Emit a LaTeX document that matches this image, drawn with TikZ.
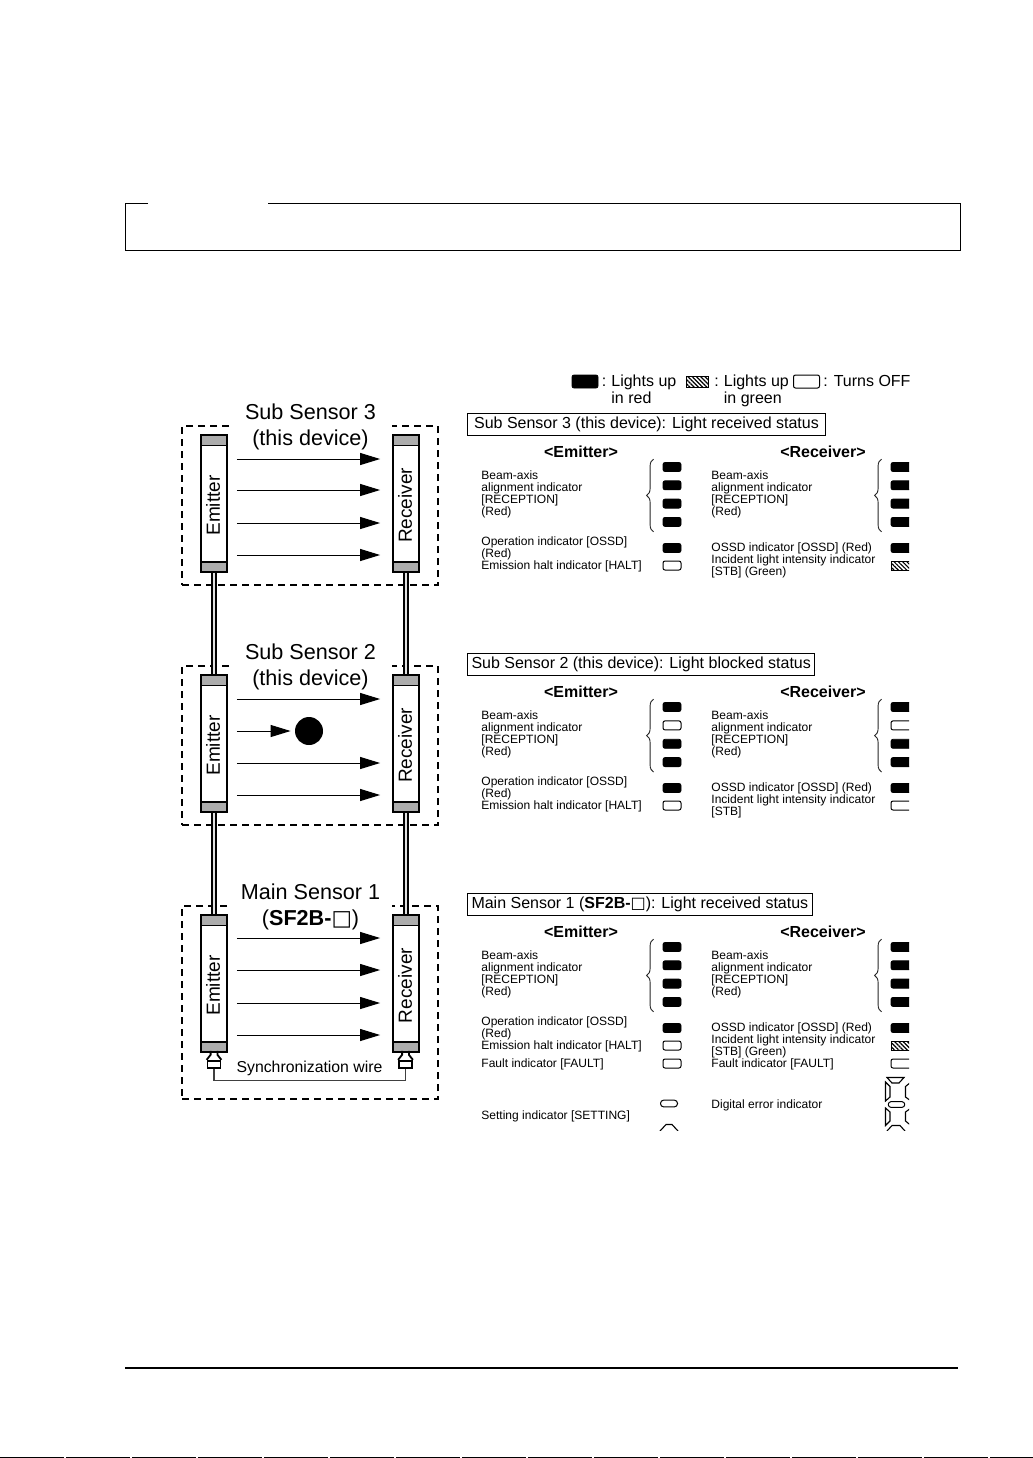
\documentclass[tikz,border=0pt]{standalone}
\usepackage{fontspec}
\setmainfont{Liberation Sans}
\newfontfamily\symbolfont{DejaVu Sans}
\usepackage{xcolor}
\usetikzlibrary{arrows.meta, positioning, calc, patterns.meta, decorations.pathreplacing}
\definecolor{capcolor}{RGB}{172,172,172}
\definecolor{wirecolor}{RGB}{225,225,225}

\begin{document}
\begin{tikzpicture}[
    x=0.5pt, y=-0.5pt,
    sensorframe/.style={rectangle, draw, dash pattern=on 3.5pt off 2.5pt, line width=0.65pt, minimum width=128pt},
    sensorbody/.style={rectangle, draw, fill=white, line width=0.9pt, minimum width=13pt, minimum height=68.5pt, inner sep=0pt},
    sensorcap/.style={rectangle, draw, fill=capcolor, line width=0.9pt, minimum width=13pt, minimum height=5.2pt, inner sep=0pt},
    sensorname/.style={rotate=90, inner sep=0pt, font=\fontsize{9.5}{11}\selectfont},
    sensortitle/.style={fill=white, align=center, inner sep=0pt, minimum width=81pt, minimum height=24pt, font=\fontsize{10.8}{13}\selectfont},
    beam/.style={-{Triangle[length=10pt,width=6pt]}, line width=0.5pt, shorten <=4.5pt, shorten >=6pt},
    wire/.style={double=wirecolor, double distance=1pt, line width=0.8pt},
    statusbox/.style={rectangle, draw, anchor=west, line width=0.5pt, minimum height=11pt, inner xsep=2pt, inner ysep=0pt, font=\fontsize{8}{9}\selectfont},
    heading/.style={inner sep=0pt, font=\bfseries\fontsize{8}{9}\selectfont},
    legendtext/.style={anchor=north west, align=left, inner sep=0pt, font=\fontsize{8}{8.5}\selectfont},
    itemtext/.style={anchor=west, align=left, inner sep=0pt, font=\fontsize{6.02}{5.9}\selectfont},
    ledon/.style={rectangle, rounded corners=1pt, fill=black, draw, minimum width=9pt, minimum height=4.5pt, inner sep=0pt},
    ledoff/.style={rectangle, rounded corners=1pt, fill=white, draw, line width=0.5pt, minimum width=9pt, minimum height=4.5pt, inner sep=0pt},
    ledgreen/.style={rectangle, draw, line width=0.3pt, minimum width=9pt, minimum height=4.5pt, inner sep=0pt, pattern={Lines[angle=-45,distance=1.5pt,line width=0.6pt]}},
    rxlamp/.style={minimum width=11pt},
    bracket/.style={decorate, decoration={brace, amplitude=3.5pt}, line width=0.45pt, draw=black!85},
    plugbox/.style={rectangle, draw, fill=white, line width=0.9pt, minimum width=6.5pt, minimum height=3.8pt, inner sep=0pt},
    plugneck/.style={line width=0.9pt},
    syncwire/.style={line width=0.6pt, draw=black!75},
    segment/.style={line width=0.55pt},
    pageline/.style={line width=0.5pt},
    node distance=4.25pt
]
    \useasboundingbox (0,0) rectangle (1033,1458);

    % Page rules
    \draw[pageline] (148,203) -| (125,250) -| (960,203) -- (268,203);
    \draw[line width=1pt] (125,1368) -- (958,1368);
    \draw[line width=0.75pt, dash pattern=on 32pt off 1pt] (0,1457.4) -- (1033,1457.4);

    % Dashed frames
    \node[sensorframe, minimum height=79.5pt] (frame3) at (310,505.5) {};
    \node[sensorframe, minimum height=79.5pt] (frame2) at (310,745.5) {};
    \node[sensorframe, minimum height=96.5pt] (frame1) at (310,1002.5) {};

    % Sensor bodies
    \node[sensorbody] (emit3) at (214,503.5) {};
    \node[sensorbody] (recv3) at (406,503.5) {};
    \node[sensorbody] (emit2) at (214,743.5) {};
    \node[sensorbody] (recv2) at (406,743.5) {};
    \node[sensorbody] (emit1) at (214,983.5) {};
    \node[sensorbody] (recv1) at (406,983.5) {};

    % End caps
    \node[sensorcap, below=0pt of emit3.north] (emit3top) {};
    \node[sensorcap, above=0pt of emit3.south] (emit3bot) {};
    \node[sensorcap, below=0pt of recv3.north] (recv3top) {};
    \node[sensorcap, above=0pt of recv3.south] (recv3bot) {};
    \node[sensorcap, below=0pt of emit2.north] (emit2top) {};
    \node[sensorcap, above=0pt of emit2.south] (emit2bot) {};
    \node[sensorcap, below=0pt of recv2.north] (recv2top) {};
    \node[sensorcap, above=0pt of recv2.south] (recv2bot) {};
    \node[sensorcap, below=0pt of emit1.north] (emit1top) {};
    \node[sensorcap, above=0pt of emit1.south] (emit1bot) {};
    \node[sensorcap, below=0pt of recv1.north] (recv1top) {};
    \node[sensorcap, above=0pt of recv1.south] (recv1bot) {};

    % Names on the bodies
    \node[sensorname] (emit3name) at ($(emit3)+(-1,2)$) {Emitter};
    \node[sensorname] (recv3name) at ($(recv3)+(-1,2)$) {Receiver};
    \node[sensorname] (emit2name) at ($(emit2)+(-1,2)$) {Emitter};
    \node[sensorname] (recv2name) at ($(recv2)+(-1,2)$) {Receiver};
    \node[sensorname] (emit1name) at ($(emit1)+(-1,2)$) {Emitter};
    \node[sensorname] (recv1name) at ($(recv1)+(-1,2)$) {Receiver};

    % Cables between the sensors
    \draw[wire] (emit3.south) -- (emit2.north);
    \draw[wire] (recv3.south) -- (recv2.north);
    \draw[wire] (emit2.south) -- (emit1.north);
    \draw[wire] (recv2.south) -- (recv1.north);

    % Titles over the frames
    \node[sensortitle] (title3) at (310.5,427) {Sub Sensor 3\\(this device)};
    \node[sensortitle] (title2) at (310.5,667) {Sub Sensor 2\\(this device)};
    \node[sensortitle] (title1) at (310.5,907) {Main Sensor 1\\(\textbf{SF2B-}{\symbolfont □})};

    % Beams, Sub Sensor 3
    \draw[beam] ($(emit3.east)+(0,-44.5)$) -- ($(recv3.west)+(0,-44.5)$);
    \draw[beam] ($(emit3.east)+(0,-13.5)$) -- ($(recv3.west)+(0,-13.5)$);
    \draw[beam] ($(emit3.east)+(0,19.5)$) -- ($(recv3.west)+(0,19.5)$);
    \draw[beam] ($(emit3.east)+(0,51.5)$) -- ($(recv3.west)+(0,51.5)$);

    % Beams, Sub Sensor 2 (one of them stopped)
    \node[circle, fill=black, minimum size=14pt, inner sep=0pt] (blocker) at (309,731) {};
    \draw[beam] ($(emit2.east)+(0,-44.5)$) -- ($(recv2.west)+(0,-44.5)$);
    \draw[beam, shorten >=2pt] ($(emit2.east)+(0,-12.5)$) -- (blocker.west);
    \draw[beam] ($(emit2.east)+(0,19.5)$) -- ($(recv2.west)+(0,19.5)$);
    \draw[beam] ($(emit2.east)+(0,51.5)$) -- ($(recv2.west)+(0,51.5)$);

    % Beams, Main Sensor 1
    \draw[beam] ($(emit1.east)+(0,-45.5)$) -- ($(recv1.west)+(0,-45.5)$);
    \draw[beam] ($(emit1.east)+(0,-13.5)$) -- ($(recv1.west)+(0,-13.5)$);
    \draw[beam] ($(emit1.east)+(0,19.5)$) -- ($(recv1.west)+(0,19.5)$);
    \draw[beam] ($(emit1.east)+(0,51.5)$) -- ($(recv1.west)+(0,51.5)$);

    % Synchronization wire
    \node[plugbox] (plugemit) at (214,1064.5) {};
    \node[plugbox] (plugrecv) at (405.5,1064.5) {};
    \draw[plugneck] (plugemit.north west) -- ++(4,-5) -- ++(0,-4);
    \draw[plugneck] (plugemit.north east) -- ++(-4,-5) -- ++(0,-4);
    \draw[plugneck] (plugrecv.north west) -- ++(4,-5) -- ++(0,-4);
    \draw[plugneck] (plugrecv.north east) -- ++(-4,-5) -- ++(0,-4);
    \draw[syncwire] (plugemit.south) -- ++(0,11) -| (plugrecv.south);
    \node[inner sep=0pt, font=\fontsize{7.9}{9}\selectfont] (synclabel) at (309.5,1068.5) {Synchronization wire};

    % Legend
    \node[ledon, minimum width=13pt, minimum height=6.5pt] (legendon) at (585,381.5) {};
    \node[legendtext] (legendon1) at (601.5,374) {\vphantom{Lh}:};
    \node[legendtext] (legendon2) at (611,374) {Lights up\\in red};
    \node[ledgreen, minimum width=11pt, minimum height=5.5pt] (legendgreen) at (697,381.5) {};
    \node[legendtext] (legendgreen1) at (714,374) {\vphantom{Lh}:};
    \node[legendtext] (legendgreen2) at (723.5,374) {Lights up\\in green};
    \node[ledoff, minimum width=13pt, minimum height=6.5pt] (legendoff) at (806.5,381.5) {};
    \node[legendtext] (legendoff1) at (823,374) {\vphantom{Lh}: Turns OFF};

    % Status of Sub Sensor 3
    \node[statusbox, minimum width=179pt] (status3) at (467,424) {Sub Sensor 3 (this device): Light received status};
    \node[heading] (emithead3) at (581,451.5) {<Emitter>};
    \node[heading] (recvhead3) at (823,451.5) {<Receiver>};
    \node[itemtext] (emitbeam3) at (481,494.5) {Beam-axis\\alignment indicator\\{[RECEPTION]}\\(Red)};
    \node[itemtext] (emitoper3) at (481,548) {Operation indicator [OSSD]\\(Red)};
    \node[itemtext] (emithalt3) at (481,566.5) {Emission halt indicator [HALT]};
    \node[itemtext] (recvbeam3) at (711,494.5) {Beam-axis\\alignment indicator\\{[RECEPTION]}\\(Red)};
    \node[itemtext] (recvossd3) at (711,548.5) {OSSD indicator [OSSD] (Red)};
    \node[itemtext] (recvstb3) at (711,566.5) {Incident light intensity indicator\\{[STB]} (Green)};

    % Status of Sub Sensor 2
    \node[statusbox, minimum width=173pt] (status2) at (467,664) {Sub Sensor 2 (this device): Light blocked status};
    \node[heading] (emithead2) at (581,691.5) {<Emitter>};
    \node[heading] (recvhead2) at (823,691.5) {<Receiver>};
    \node[itemtext] (emitbeam2) at (481,734.5) {Beam-axis\\alignment indicator\\{[RECEPTION]}\\(Red)};
    \node[itemtext] (emitoper2) at (481,788) {Operation indicator [OSSD]\\(Red)};
    \node[itemtext] (emithalt2) at (481,806.5) {Emission halt indicator [HALT]};
    \node[itemtext] (recvbeam2) at (711,734.5) {Beam-axis\\alignment indicator\\{[RECEPTION]}\\(Red)};
    \node[itemtext] (recvossd2) at (711,788.5) {OSSD indicator [OSSD] (Red)};
    \node[itemtext] (recvstb2) at (711,806.5) {Incident light intensity indicator\\{[STB]}};

    % Status of Main Sensor 1
    \node[statusbox, minimum width=172pt] (status1) at (467,904) {Main Sensor 1 (\textbf{SF2B-}{\symbolfont □}): Light received status};
    \node[heading] (emithead1) at (581,931.5) {<Emitter>};
    \node[heading] (recvhead1) at (823,931.5) {<Receiver>};
    \node[itemtext] (emitbeam1) at (481,974.5) {Beam-axis\\alignment indicator\\{[RECEPTION]}\\(Red)};
    \node[itemtext] (emitoper1) at (481,1028) {Operation indicator [OSSD]\\(Red)};
    \node[itemtext] (emithalt1) at (481,1046.5) {Emission halt indicator [HALT]};
    \node[itemtext] (emitfault1) at (481,1064) {Fault indicator [FAULT]};
    \node[itemtext] (emitset1) at (481,1116) {Setting indicator [SETTING]};
    \node[itemtext] (recvbeam1) at (711,974.5) {Beam-axis\\alignment indicator\\{[RECEPTION]}\\(Red)};
    \node[itemtext] (recvossd1) at (711,1028.5) {OSSD indicator [OSSD] (Red)};
    \node[itemtext] (recvstb1) at (711,1046.5) {Incident light intensity indicator\\{[STB]} (Green)};
    \node[itemtext] (recvfault1) at (711,1064) {Fault indicator [FAULT]};
    \node[itemtext] (recvdigit1) at (711,1105) {Digital error indicator};

    \begin{scope}
    \clip (460,360) rectangle (909,1130);

    % Lamps of Sub Sensor 3
    \node[ledon] (emled3a) at (672,467) {};
    \node[ledon, below=of emled3a] (emled3b) {};
    \node[ledon, below=of emled3b] (emled3c) {};
    \node[ledon, below=of emled3c] (emled3d) {};
    \node[ledon] (emoper3) at (672,548) {};
    \node[ledoff] (emhalt3) at (672,565.5) {};
    \node[ledon, rxlamp] (rxled3a) at (902,467) {};
    \node[ledon, rxlamp, below=of rxled3a] (rxled3b) {};
    \node[ledon, rxlamp, below=of rxled3b] (rxled3c) {};
    \node[ledon, rxlamp, below=of rxled3c] (rxled3d) {};
    \node[ledon, rxlamp] (rxossd3) at (902,548) {};
    \node[ledgreen, rxlamp] (rxstb3) at (902,565.5) {};

    % Lamps of Sub Sensor 2
    \node[ledon] (emled2a) at (672,707) {};
    \node[ledoff, below=of emled2a] (emled2b) {};
    \node[ledon, below=of emled2b] (emled2c) {};
    \node[ledon, below=of emled2c] (emled2d) {};
    \node[ledon] (emoper2) at (672,788) {};
    \node[ledoff] (emhalt2) at (672,805.5) {};
    \node[ledon, rxlamp] (rxled2a) at (902,707) {};
    \node[ledoff, rxlamp, below=of rxled2a] (rxled2b) {};
    \node[ledon, rxlamp, below=of rxled2b] (rxled2c) {};
    \node[ledon, rxlamp, below=of rxled2c] (rxled2d) {};
    \node[ledon, rxlamp] (rxossd2) at (902,788) {};
    \node[ledoff, rxlamp] (rxstb2) at (902,805.5) {};

    % Lamps of Main Sensor 1
    \node[ledon] (emled1a) at (672,947) {};
    \node[ledon, below=of emled1a] (emled1b) {};
    \node[ledon, below=of emled1b] (emled1c) {};
    \node[ledon, below=of emled1c] (emled1d) {};
    \node[ledon] (emoper1) at (672,1028) {};
    \node[ledoff] (emhalt1) at (672,1045.5) {};
    \node[ledoff] (emfault1) at (672,1063.5) {};
    \node[ledon, rxlamp] (rxled1a) at (902,947) {};
    \node[ledon, rxlamp, below=of rxled1a] (rxled1b) {};
    \node[ledon, rxlamp, below=of rxled1b] (rxled1c) {};
    \node[ledon, rxlamp, below=of rxled1c] (rxled1d) {};
    \node[ledon, rxlamp] (rxossd1) at (902,1028) {};
    \node[ledgreen, rxlamp] (rxstb1) at (902,1045.5) {};
    \node[ledoff, rxlamp] (rxfault1) at (902,1063.5) {};

    % Setting indicator
    \node[ledoff, minimum width=8.5pt, minimum height=3.4pt, rounded corners=1.6pt] (setlamp) at (669,1103.5) {};
    \draw[segment] (660,1131) -- (666,1124.5) -- (672,1124.5) -- (678,1131);

    % Digital error indicator
    \draw[segment] (887,1077.5) -- (904,1077.5) -- (899,1083) -- (892,1083) -- cycle;
    \draw[segment] (885.5,1082) -- (890,1086.5) -- (890,1097) -- (885.5,1101) -- cycle;
    \draw[segment] (911,1082) -- (905.5,1086.5) -- (905.5,1097) -- (911,1101) -- cycle;
    \node[ledoff, minimum width=8.2pt, minimum height=2.8pt, rounded corners=1.3pt] (digitmid) at (896.5,1104.5) {};
    \draw[segment] (885.5,1108) -- (890,1112) -- (890,1121) -- (885.5,1125.5) -- cycle;
    \draw[segment] (911,1108) -- (905.5,1112) -- (905.5,1121) -- (911,1125.5) -- cycle;
    \draw[segment] (887,1131) -- (892,1125.5) -- (900,1125.5) -- (905,1131);
    \end{scope}

    % Braces next to the lamps
    \draw[bracket] ($(emled3d.south west)+(-9,5)$) -- ($(emled3a.north west)+(-9,-3)$);
    \draw[bracket] ($(rxled3d.south west)+(-9,5)$) -- ($(rxled3a.north west)+(-9,-3)$);
    \draw[bracket] ($(emled2d.south west)+(-9,5)$) -- ($(emled2a.north west)+(-9,-3)$);
    \draw[bracket] ($(rxled2d.south west)+(-9,5)$) -- ($(rxled2a.north west)+(-9,-3)$);
    \draw[bracket] ($(emled1d.south west)+(-9,5)$) -- ($(emled1a.north west)+(-9,-3)$);
    \draw[bracket] ($(rxled1d.south west)+(-9,5)$) -- ($(rxled1a.north west)+(-9,-3)$);

\end{tikzpicture}
\end{document}
